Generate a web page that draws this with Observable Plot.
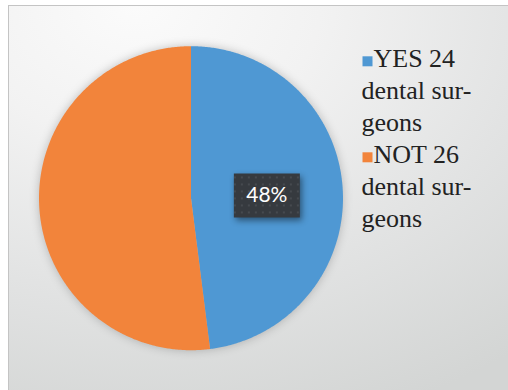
<!DOCTYPE html>
<html>
<head>
<meta charset="utf-8">
<script src="https://cdn.jsdelivr.net/npm/d3@7"></script>
<script src="https://cdn.jsdelivr.net/npm/@observablehq/plot@0.6"></script>
<style>
  html, body { margin: 0; padding: 0; background: #ffffff; }
  #wrap { position: relative; width: 508px; height: 390px; overflow: hidden; }
  #frame {
    position: absolute; left: 8px; top: 5px; width: 510px; height: 400px;
    border-left: 1px solid #c4c4c4; border-top: 1px solid #c4c4c4;
    background: radial-gradient(ellipse 120% 110% at 25% 0%, #fbfbfb 0%, #f2f2f2 30%, #e2e3e3 65%, #d3d5d4 100%);
  }
  #chart { position: absolute; left: 0; top: 0; }
  #legend { position: absolute; left: 361px; top: 41px; }
  #chart g[aria-label="line"] { filter: drop-shadow(0 0 5px rgba(0,0,0,0.22)); }
  #chart g[aria-label="dot"] { filter: drop-shadow(2px 3px 3px rgba(0,0,0,0.45)); }
</style>
</head>
<body>
<div id="wrap">
  <div id="frame"></div>
  <div id="chart"></div>
  <div id="legend"></div>
</div>
<script>
// ---- data ----
const categories = ["YES", "NOT"];
const counts = [24, 26];
const unitLines = ["dental sur-", "geons"];
const colors = ["#4f98d3", "#f2843b"];
const labelledCategories = ["YES"];

// ---- pie geometry ----
const total = d3.sum(counts);
const arcs = d3.pie().sort(null).startAngle(0).endAngle(2 * Math.PI)(counts);
const slicePts = [];
arcs.forEach((a, i) => {
  const cat = categories[i];
  slicePts.push({cat, x: 0, y: 0});
  const n = Math.max(2, Math.ceil((a.endAngle - a.startAngle) / (Math.PI / 360)));
  for (let k = 0; k <= n; k++) {
    const t = a.startAngle + (a.endAngle - a.startAngle) * k / n;
    slicePts.push({cat, x: Math.sin(t), y: Math.cos(t)});
  }
  slicePts.push({cat, x: 0, y: 0});
});
const labels = arcs
  .map((a, i) => {
    const m = (a.startAngle + a.endAngle) / 2;
    return {cat: categories[i], x: 0.5 * Math.sin(m), y: 0.5 * Math.cos(m),
            text: Math.round(counts[i] / total * 100) + "%"};
  })
  .filter(d => labelledCategories.includes(d.cat));

const boxSymbol = { draw(ctx) { ctx.rect(-33, -22, 66, 44); } };

const plot = Plot.plot({
  width: 508, height: 390,
  marginLeft: 38.5, marginRight: 165.5, marginTop: 45.7, marginBottom: 40.3,
  x: {domain: [-1, 1], axis: null},
  y: {domain: [-1, 1], axis: null},
  color: {domain: categories, range: colors},
  style: {background: "transparent", overflow: "visible"},
  marks: [
    Plot.line(slicePts, {x: "x", y: "y", z: "cat", fill: "cat", stroke: "none", curve: "linear"}),
    Plot.dot(labels, {x: "x", y: "y", dy: 2, symbol: boxSymbol, fill: "#363a3f", stroke: "none"}),
    Plot.text(labels, {x: "x", y: "y", dy: 1.5, text: "text", fill: "#ffffff",
      fontSize: 21, fontFamily: "Lato, 'Open Sans', sans-serif"})
  ]
});
document.getElementById("chart").appendChild(plot);

// dotted texture for the label box
const svgNS = "http://www.w3.org/2000/svg";
const defs = document.createElementNS(svgNS, "defs");
defs.innerHTML = '<pattern id="dots" width="7" height="7" patternUnits="userSpaceOnUse">' +
  '<rect width="7" height="7" fill="#363a3f"/><rect x="2" y="2" width="2" height="2" fill="#464a4f"/></pattern>';
plot.insertBefore(defs, plot.firstChild);
plot.querySelectorAll('g[aria-label="dot"] path').forEach(p => p.setAttribute("fill", "url(#dots)"));

// legend (separate small plot, one band per text line)
const legendLines = categories.flatMap((c, i) => [
  {id: `${c}-0`, cat: c, text: `${c} ${counts[i]}`, head: true},
  ...unitLines.map((l, k) => ({id: `${c}-${k + 1}`, cat: c, text: l, head: false}))
]);
const heads = legendLines.filter(d => d.head);
const bodies = legendLines.filter(d => !d.head);
const swatch = { draw(ctx) { ctx.rect(-5, -5, 10, 10); } };
const serifFont = "'Liberation Serif', serif";
const lineH = 32.4;
const legendPlot = Plot.plot({
  width: 147, height: lineH * legendLines.length,
  margin: 0,
  x: {axis: null},
  y: {type: "band", domain: legendLines.map(d => d.id), range: [0, lineH * legendLines.length], axis: null, padding: 0},
  color: {domain: categories, range: colors},
  style: {background: "transparent", overflow: "visible", fontFamily: "serif"},
  marks: [
    Plot.dot(heads, {y: "id", frameAnchor: "left", dx: 6, dy: 2.8, symbol: swatch, fill: "cat", stroke: "none"}),
    Plot.text(heads, {y: "id", frameAnchor: "left", dx: 12, text: "text", textAnchor: "start",
      lineAnchor: "middle", fontSize: 26, fontFamily: serifFont, fill: "#222"}),
    Plot.text(bodies, {y: "id", frameAnchor: "left", dx: 0, text: "text", textAnchor: "start",
      lineAnchor: "middle", fontSize: 26, fontFamily: "serif", fill: "#222"})
  ]
});
document.getElementById("legend").appendChild(legendPlot);
</script>
</body>
</html>
